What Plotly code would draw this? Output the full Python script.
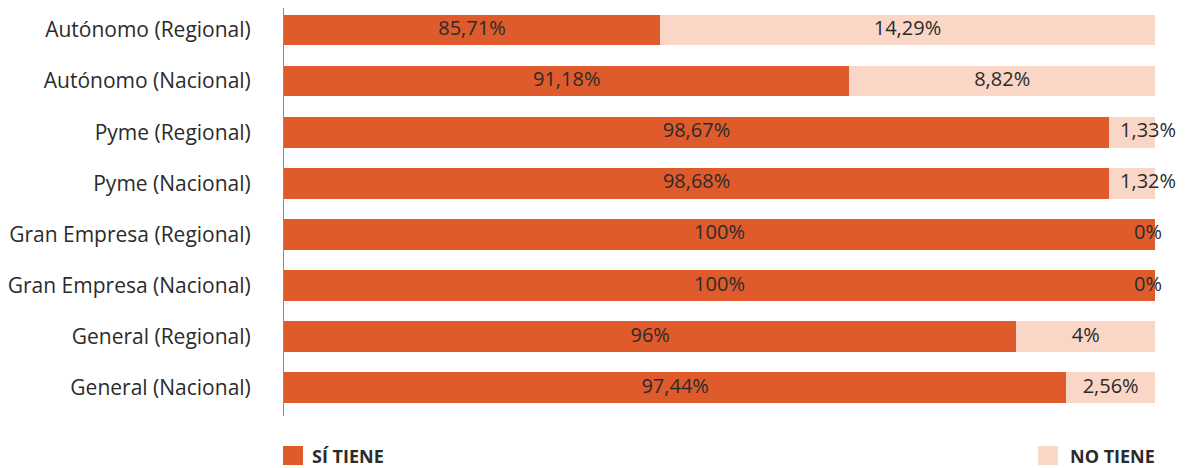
import plotly.graph_objects as go

# Categorías y porcentajes (de arriba a abajo)
categorias = ['Autónomo (Regional)', 'Autónomo (Nacional)', 'Pyme (Regional)', 'Pyme (Nacional)',
              'Gran Empresa (Regional)', 'Gran Empresa (Nacional)', 'General (Regional)', 'General (Nacional)']
si_tiene = [85.71, 91.18, 98.67, 98.68, 100, 100, 96, 97.44]
no_tiene = [14.29, 8.82, 1.33, 1.32, 0, 0, 4, 2.56]

NARANJA = '#DF5B2B'
MELOCOTON = '#F9D6C5'
TEXTO = '#2B2B2B'
FUENTE = 'Open Sans'
X0 = 74.86  # el eje no empieza en cero en el original

# la página html deja un margen arriba y a la izquierda
OFF_X, OFF_Y = 10, 8
ANCHO, ALTO = 1187, 468
IZQ, DER = 286 - OFF_X, 1157 - OFF_X
ARR, ABA = 8 - OFF_Y, 416 - OFF_Y


def fmt(v):
    if float(v).is_integer():
        return f'{int(v)}%'
    return f'{v:.2f}'.replace('.', ',') + '%'


fig = go.Figure()

fig.add_trace(go.Bar(y=categorias, x=si_tiene, orientation='h', marker=dict(color=NARANJA, line=dict(width=0)),
                     width=0.6, showlegend=False, hoverinfo='skip'))
fig.add_trace(go.Bar(y=categorias, x=no_tiene, orientation='h', marker=dict(color=MELOCOTON, line=dict(width=0)),
                     width=0.6, showlegend=False, hoverinfo='skip'))

# etiquetas centradas en la parte visible de cada barra
x_si = [(X0 + s) / 2 for s in si_tiene]
x_no = [(s + s + n) / 2 if n > 2 else 99.8 for s, n in zip(si_tiene, no_tiene)]
fig.add_trace(go.Scatter(y=categorias, x=x_si, mode='text', text=[fmt(v) for v in si_tiene],
                         textfont=dict(family=FUENTE, size=20, color=TEXTO),
                         showlegend=False, cliponaxis=False, hoverinfo='skip'))
fig.add_trace(go.Scatter(y=categorias, x=x_no, mode='text', text=[fmt(v) for v in no_tiene],
                         textfont=dict(family=FUENTE, size=20, color=TEXTO),
                         showlegend=False, cliponaxis=False, hoverinfo='skip'))

# leyenda dibujada a mano (un elemento a cada lado)
W = float(DER - IZQ)
H = float(ABA - ARR)


def px_x(p):
    return (p - OFF_X - IZQ) / W


def px_y(p):
    return (ABA - (p - OFF_Y)) / H


shapes = [
    dict(type='rect', xref='paper', yref='paper', x0=px_x(285), x1=px_x(305), y0=px_y(465), y1=px_y(446),
         fillcolor=NARANJA, line=dict(width=0)),
    dict(type='rect', xref='paper', yref='paper', x0=px_x(1040), x1=px_x(1060), y0=px_y(465), y1=px_y(446),
         fillcolor=MELOCOTON, line=dict(width=0)),
]
annotations = [
    dict(text='<b>SÍ TIENE</b>', xref='paper', yref='paper', x=px_x(312), y=px_y(456), xanchor='left',
         yanchor='middle', showarrow=False, font=dict(family=FUENTE, size=18, color=TEXTO)),
    dict(text='<b>NO TIENE</b>', xref='paper', yref='paper', x=px_x(1070), y=px_y(456), xanchor='left',
         yanchor='middle', showarrow=False, font=dict(family=FUENTE, size=18, color=TEXTO)),
]

# rango vertical: centro de la primera barra en y=30 y paso de 51.1px
paso = 51.1
y_arriba = (8 - 30) / paso
y_abajo = (416 - 30) / paso

fig.update_layout(
    barmode='stack',
    width=ANCHO, height=ALTO,
    margin=dict(l=IZQ, r=ANCHO - DER, t=ARR, b=ALTO - ABA),
    paper_bgcolor='white', plot_bgcolor='white',
    xaxis=dict(range=[X0, 100], visible=False, fixedrange=True),
    yaxis=dict(range=[y_abajo, y_arriba], showline=True, linecolor='#8C8C8C', linewidth=1, ticks='',
               ticklabelstandoff=28, showgrid=False,
               tickfont=dict(family=FUENTE, size=21, color=TEXTO)),
    shapes=shapes,
    annotations=annotations,
)

fig.write_html('out.html')
